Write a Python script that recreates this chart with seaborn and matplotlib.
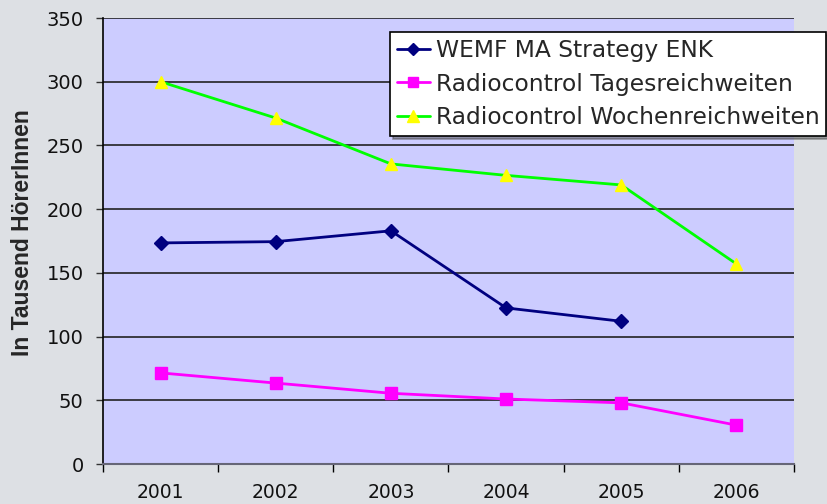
import numpy as np
import pandas as pd
import matplotlib
matplotlib.use("Agg")
import matplotlib.pyplot as plt
import seaborn as sns

years = [2001, 2002, 2003, 2004, 2005, 2006]
wemf = [173.5, 174.5, 183, 122.5, 112, np.nan]
tages = [71.5, 63.5, 55.5, 51, 48, 30.5]
wochen = [300, 271.5, 235.5, 226.5, 219, 157]
series_names = ["WEMF MA Strategy ENK", "Radiocontrol Tagesreichweiten",
                "Radiocontrol Wochenreichweiten"]
yticks = [0, 50, 100, 150, 200, 250, 300, 350]

rows = []
for name, vals in zip(series_names, [wemf, tages, wochen]):
    for i, (y, v) in enumerate(zip(years, vals)):
        rows.append({"pos": i, "year": y, "value": v, "series": name})
df = pd.DataFrame(rows).dropna()

sns.set_theme(style="white")
plt.rcParams['font.family'] = ['DejaVu Sans']

fig = plt.figure(figsize=(8.27, 5.04), dpi=100, facecolor="#dde0e4")
ax = fig.add_axes([103/827, 1-464/504, (794-103)/827, (464-18)/504])
ax.set_facecolor("#ccccff")

line_colors = {series_names[0]: "#000080", series_names[1]: "#ff00ff",
               series_names[2]: "#00ff00"}
sns.lineplot(data=df, x="pos", y="value", hue="series", hue_order=series_names,
             palette=line_colors, ax=ax, linewidth=2, sort=False,
             markers=False, legend=False, zorder=3)

marker_styles = [("D", "#000080", 7), ("s", "#ff00ff", 8), ("^", "#ffff00", 9)]
handles = []
for name, (m, c, s) in zip(series_names, marker_styles):
    sub = df[df["series"] == name]
    ax.plot(sub["pos"], sub["value"], linestyle="none", marker=m, markersize=s,
            markerfacecolor=c, markeredgecolor=c, zorder=4)
    h, = ax.plot([], [], color=line_colors[name], lw=2, marker=m, markersize=s-1,
                 markerfacecolor=c, markeredgecolor=c)
    handles.append(h)

ax.set_xlim(-0.5, len(years) - 0.5)
ax.set_ylim(0, 350)
ax.set_yticks(yticks)
ax.set_yticklabels([str(t) for t in yticks], fontsize=14, color="#111111")
ax.set_xticks(range(len(years)))
ax.set_xticklabels([str(y) for y in years], fontsize=13.5, color="#111111")
ax.set_xticks(np.arange(-0.5, len(years), 1.0), minor=True)
ax.tick_params(axis="x", which="major", length=0, pad=14)
ax.tick_params(axis="x", which="minor", length=6, width=1, color="black", bottom=True)
ax.tick_params(axis="y", which="major", length=5, width=1, color="#333333", left=True, pad=9)

ax.grid(axis="y", color="#222222", linewidth=1.2, zorder=1)
ax.set_axisbelow(True)
for side in ["top", "right"]:
    ax.spines[side].set_visible(False)
ax.spines["left"].set_color("black")
ax.spines["left"].set_linewidth(1.2)
ax.spines["bottom"].set_color("#666677")
ax.spines["bottom"].set_linewidth(1.5)

ax.set_xlabel("")
ax.set_ylabel("In Tausend HörerInnen", fontsize=16.5, fontweight="bold",
              family=["Liberation Sans", "DejaVu Sans"], labelpad=6)
ax.yaxis.set_label_coords(-0.1, (464-233)/446)

leg = ax.legend(handles, series_names, loc="upper left",
                bbox_to_anchor=(390/827, 1-32/504), bbox_transform=fig.transFigure,
                fontsize=16.8, frameon=True, fancybox=False, shadow=True,
                framealpha=1, edgecolor="black", handlelength=1.4,
                handletextpad=0.25, labelspacing=0.45, borderpad=0.3,
                borderaxespad=0)
leg.get_frame().set_linewidth(1.2)
leg.get_frame().set_facecolor("white")

fig.savefig("out.png", dpi=100, facecolor=fig.get_facecolor())
